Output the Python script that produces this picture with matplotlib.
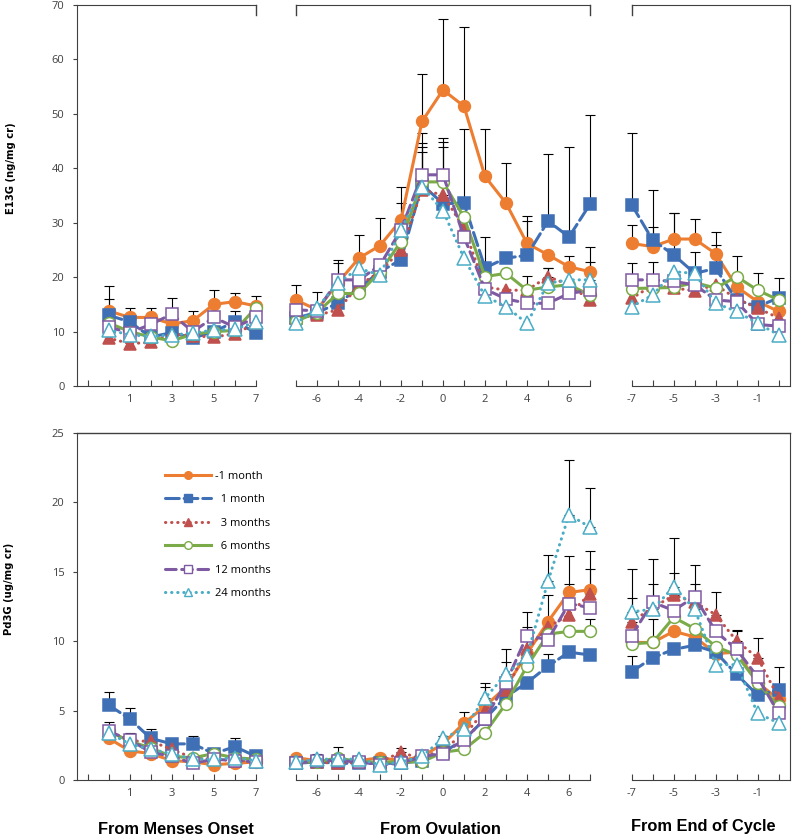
import numpy as np
import matplotlib
matplotlib.use('Agg')
import matplotlib.pyplot as plt
from matplotlib.lines import Line2D

plt.rcParams['font.family'] = ['Open Sans', 'DejaVu Sans']

nan = np.nan

# Series (same order in every panel)
series_labels = ['-1 month', '  1 month', '  3 months', '  6 months', '12 months', '24 months']

# Days for each panel
days_menses = [0, 1, 2, 3, 4, 5, 6, 7]
days_ovul = [-7, -6, -5, -4, -3, -2, -1, 0, 1, 2, 3, 4, 5, 6, 7]
days_end = [-7, -6, -5, -4, -3, -2, -1, 0]

# E13G (ng/mg cr) values, one row per series
e13g_menses = [
    [13.8, 12.6, 12.6, 11.4, 12.0, 15.0, 15.5, 14.7],
    [13.0, 11.8, 9.0, 9.8, 8.8, 10.0, 11.8, 9.8],
    [8.8, 7.8, 8.0, 9.6, 9.2, 9.0, 9.6, 11.5],
    [11.6, 10.0, 9.0, 8.3, 9.5, 10.0, 10.2, 14.4],
    [10.8, 9.8, 11.3, 13.2, 10.0, 12.6, 10.8, 12.6],
    [10.3, 9.4, 9.1, 9.4, 9.7, 10.3, 10.4, 11.8],
]
e13g_menses_err = [
    [4.6, 1.7, 1.7, 4.7, 1.7, 2.6, 1.6, 1.8],
    [3.0, nan, nan, nan, nan, nan, 2.0, nan],
    [nan] * 8,
    [nan] * 8,
    [nan] * 8,
    [nan] * 8,
]
e13g_ovul = [
    [15.8, 14.0, 19.0, 23.5, 25.8, 30.5, 48.6, 54.4, 51.4, 38.5, 33.6, 26.2, 24.1, 21.9, 21.0],
    [12.5, 13.5, 15.2, 18.0, 21.0, 23.2, 37.0, 33.5, 33.6, 21.7, 23.5, 24.0, 30.3, 27.4, 33.4],
    [12.5, 13.0, 14.0, 18.5, 21.0, 25.0, 36.0, 35.1, 29.0, 18.2, 17.6, 17.6, 20.1, 18.6, 15.8],
    [11.9, 13.5, 17.0, 17.0, 21.0, 26.5, 37.5, 37.5, 31.0, 20.1, 20.7, 17.6, 18.2, 18.6, 16.7],
    [14.0, 13.8, 19.5, 19.5, 22.2, 28.7, 38.8, 38.8, 27.4, 17.8, 16.0, 15.2, 15.2, 17.0, 17.6],
    [11.5, 14.3, 19.0, 21.6, 20.4, 28.7, 36.6, 32.2, 23.5, 16.5, 14.6, 11.5, 18.9, 19.5, 19.5],
]
e13g_ovul_err = [
    [2.8, 3.3, 4.1, 4.2, 5.1, 6.0, 8.7, 13.1, 14.5, 8.8, 7.3, 5.0, nan, 1.9, 4.6],
    [nan, nan, nan, nan, nan, nan, nan, nan, 13.7, 5.6, nan, 6.4, 12.3, 16.6, 16.4],
    [nan, nan, nan, nan, nan, nan, 8.0, 8.9, nan, nan, nan, nan, 1.5, nan, nan],
    [nan, nan, nan, nan, nan, nan, 7.1, 7.4, nan, nan, nan, 2.6, nan, nan, nan],
    [nan, nan, 3.1, nan, nan, 4.9, 7.6, 6.7, nan, nan, nan, nan, nan, nan, nan],
    [nan, nan, nan, nan, nan, nan, 6.4, nan, nan, nan, nan, nan, 2.7, nan, 3.3],
]
e13g_end = [
    [26.2, 25.6, 27.0, 27.0, 24.3, 18.2, 15.5, 13.7],
    [33.3, 26.8, 24.1, 20.7, 21.6, 15.8, 14.6, 16.2],
    [16.1, 18.5, 18.0, 17.5, 18.6, 16.0, 14.3, 12.5],
    [17.9, 18.0, 18.1, 19.0, 18.0, 20.1, 17.6, 15.8],
    [19.5, 19.5, 19.2, 18.6, 15.8, 15.5, 11.3, 11.0],
    [14.6, 16.7, 21.0, 20.7, 15.2, 13.7, 11.5, 9.4],
]
e13g_end_err = [
    [3.4, 3.7, 4.7, 3.6, 4.0, nan, nan, nan],
    [13.1, 9.2, 7.6, 4.0, 4.3, nan, nan, nan],
    [nan] * 8,
    [nan, nan, nan, nan, nan, 3.7, 3.1, 4.0],
    [3.1, 3.2, nan, nan, nan, nan, nan, nan],
    [nan] * 8,
]

# Pd3G (ug/mg cr) values
pd3g_menses = [
    [3.0, 2.1, 1.9, 1.4, 1.3, 1.1, 1.2, 1.3],
    [5.4, 4.4, 3.0, 2.6, 2.6, 1.9, 2.4, 1.7],
    [3.5, 2.8, 2.8, 2.2, 1.6, 1.5, 1.4, 1.4],
    [3.5, 2.8, 2.3, 1.7, 1.6, 1.9, 1.6, 1.5],
    [3.5, 2.9, 2.0, 1.7, 1.2, 1.5, 1.4, 1.3],
    [3.4, 2.6, 2.2, 1.9, 1.5, 1.5, 1.6, 1.4],
]
pd3g_menses_err = [
    [nan] * 8,
    [0.9, 0.8, 0.7, 0.4, 0.6, nan, 0.6, nan],
    [nan] * 8,
    [0.7, nan, nan, nan, nan, nan, nan, nan],
    [nan, 0.5, nan, nan, nan, nan, nan, nan],
    [nan] * 8,
]
pd3g_ovul = [
    [1.6, 1.4, 1.4, 1.4, 1.6, 1.4, 1.7, 2.6, 4.1, 5.3, 6.7, 9.1, 11.4, 13.5, 13.7],
    [1.2, 1.3, 1.2, 1.2, 1.2, 1.2, 1.4, 2.0, 2.9, 4.4, 6.0, 7.0, 8.2, 9.2, 9.0],
    [1.3, 1.3, 1.2, 1.3, 1.3, 2.0, 1.5, 2.3, 3.2, 5.0, 6.5, 9.4, 11.0, 11.9, 13.4],
    [1.3, 1.3, 1.6, 1.3, 1.3, 1.3, 1.3, 2.0, 2.2, 3.4, 5.5, 8.2, 10.5, 10.7, 10.7],
    [1.2, 1.4, 1.4, 1.3, 1.1, 1.2, 1.7, 1.9, 2.9, 4.4, 7.0, 10.4, 10.1, 12.7, 12.4],
    [1.3, 1.5, 1.5, 1.5, 1.1, 1.3, 1.7, 3.0, 3.7, 5.9, 7.6, 8.9, 14.3, 19.1, 18.2],
]
pd3g_ovul_err = [
    [nan, nan, nan, nan, nan, nan, nan, 0.6, 0.8, 1.4, nan, nan, 1.9, 2.6, 2.8],
    [nan, nan, nan, nan, nan, nan, nan, nan, nan, nan, nan, nan, 0.9, nan, nan],
    [nan, nan, nan, nan, nan, 0.3, nan, nan, nan, nan, nan, 1.6, nan, nan, 1.8],
    [nan, nan, 0.8, nan, nan, nan, nan, nan, nan, nan, nan, nan, nan, nan, 0.9],
    [nan, nan, nan, nan, nan, nan, nan, nan, nan, nan, 1.5, 1.7, nan, 1.4, nan],
    [nan, 0.4, nan, nan, nan, nan, nan, nan, nan, 1.1, 1.8, nan, 1.9, 3.9, 2.8],
]
pd3g_end = [
    [9.9, 9.9, 10.7, 10.3, 9.1, 9.2, 7.0, 5.8],
    [7.8, 8.8, 9.4, 9.7, 9.2, 7.6, 6.1, 6.5],
    [11.4, 12.4, 13.3, 12.8, 11.9, 10.0, 8.8, 5.9],
    [9.8, 9.9, 11.7, 10.9, 9.6, 9.0, 7.0, 5.3],
    [10.4, 12.8, 12.2, 13.2, 10.7, 9.4, 7.4, 4.8],
    [12.1, 12.3, 13.9, 12.3, 8.3, 8.3, 4.8, 4.1],
]
pd3g_end_err = [
    [nan, nan, nan, nan, nan, nan, nan, nan],
    [1.1, nan, nan, nan, nan, nan, nan, 1.6],
    [1.7, nan, 1.6, nan, 1.6, 0.8, 1.4, nan],
    [nan, 1.7, nan, nan, nan, nan, nan, nan],
    [nan, 3.1, nan, 2.3, nan, 1.3, nan, nan],
    [3.1, 1.8, 3.5, 1.8, nan, nan, nan, nan],
]

# styles
colors = ['#ED7D31', '#3F6FB5', '#C0504D', '#7AAB48', '#7E5AA2', '#4BACC6']
markers = ['o', 's', '^', 'o', 's', '^']
filled = [True, True, True, False, False, False]
dashes = [(), (4.5, 1.6), (0.1, 1.9), (), (3.5, 1.8), (0.1, 1.9)]
msizes = [8.5, 8.5, 9, 8.5, 9, 9.5]

W, H = 792, 839
axis_col = '#404040'
tick_col = '#404040'


def box(x0, x1, ytop, ybot):
    return [x0 / W, 1 - ybot / H, (x1 - x0) / W, (ybot - ytop) / H]


def draw(ax, days, vals, errs):
    days = np.array(days)
    for i in range(6):
        y = np.array(vals[i])
        e = np.array(errs[i])
        m = ~np.isnan(e)
        if m.any():
            ax.errorbar(days[m], y[m], yerr=[np.zeros(m.sum()), e[m]], fmt='none',
                        ecolor='black', elinewidth=0.8, capsize=3.5, capthick=0.8,
                        zorder=1, clip_on=False)
        ax.plot(days, y, color=colors[i], lw=2.2, dashes=dashes[i],
                dash_capstyle='round', marker=markers[i], ms=msizes[i],
                mfc=colors[i] if filled[i] else 'white', mec=colors[i],
                mew=1.1, zorder=3 + i, clip_on=False)


def setup(ax, xlim, ticks, labelled, ylim, yticks, left):
    ax.set_xlim(*xlim)
    ax.set_ylim(*ylim)
    ax.set_xticks(ticks)
    ax.set_xticklabels([str(t) if t in labelled else '' for t in ticks])
    ax.tick_params(axis='x', direction='in', length=4, width=0.8, pad=6,
                   labelsize=8, labelcolor=tick_col, color=axis_col)
    for s in ['top', 'right', 'left', 'bottom']:
        ax.spines[s].set_visible(False)
    ax.spines['bottom'].set_visible(True)
    ax.spines['bottom'].set_color(axis_col)
    if left:
        ax.spines['left'].set_visible(True)
        ax.spines['left'].set_color(axis_col)
        ax.set_yticks(yticks)
        ax.tick_params(axis='y', direction='out', length=3, width=0.8, pad=6,
                       labelsize=8, labelcolor=tick_col, color=axis_col)
    else:
        ax.tick_params(axis='y', left=False, labelleft=False)


fig = plt.figure(figsize=(W / 100, H / 100), dpi=100)

top_y = (5, 386)
bot_y = (432.7, 780)
col_x = [(77, 256), (296, 590), (631.7, 790)]
xlims = [(-1.5, 7), (-7, 7), (-7, 0.54)]
xticks = [list(range(-1, 8)), list(range(-7, 8)), list(range(-7, 1))]
xlabs = [[1, 3, 5, 7], [-6, -4, -2, 0, 2, 4, 6], [-7, -5, -3, -1]]

top_data = [(days_menses, e13g_menses, e13g_menses_err),
            (days_ovul, e13g_ovul, e13g_ovul_err),
            (days_end, e13g_end, e13g_end_err)]
bot_data = [(days_menses, pd3g_menses, pd3g_menses_err),
            (days_ovul, pd3g_ovul, pd3g_ovul_err),
            (days_end, pd3g_end, pd3g_end_err)]

# top row (E13G)
tick_h = 10 / (top_y[1] - top_y[0])
for j in range(3):
    ax = fig.add_axes(box(col_x[j][0], col_x[j][1], *top_y))
    setup(ax, xlims[j], xticks[j], xlabs[j], (0, 70), range(0, 71, 10), j == 0)
    ax.spines['top'].set_visible(True)
    ax.spines['top'].set_color(axis_col)
    if j < 2:
        ax.plot([1, 1], [1, 1 - tick_h], transform=ax.transAxes, color=axis_col,
                lw=1, clip_on=False)
    if j > 0:
        ax.plot([0, 0], [1, 1 - tick_h], transform=ax.transAxes, color=axis_col,
                lw=1, clip_on=False)
    if j == 2:
        ax.spines['right'].set_visible(True)
        ax.spines['right'].set_color(axis_col)
    draw(ax, *top_data[j])

# bottom row (Pd3G)
bot_axes = []
for j in range(3):
    ax = fig.add_axes(box(col_x[j][0], col_x[j][1], *bot_y))
    setup(ax, xlims[j], xticks[j], xlabs[j], (0, 25), range(0, 26, 5), j == 0)
    if j == 2:
        ax.spines['right'].set_visible(True)
        ax.spines['right'].set_color(axis_col)
    draw(ax, *bot_data[j])
    bot_axes.append(ax)

# continuous top frame line of the bottom row
yl = 1 - bot_y[0] / H
fig.add_artist(Line2D([77 / W, 790 / W], [yl, yl], color=axis_col, lw=1))

# legend
handles = []
for i in range(6):
    handles.append(Line2D([], [], color=colors[i], lw=2.2, dashes=dashes[i],
                          dash_capstyle='round', marker=markers[i], ms=5.5,
                          mfc=colors[i] if filled[i] else 'white', mec=colors[i],
                          mew=1.0))
bot_axes[0].legend(handles, series_labels, loc='upper left',
                   bbox_to_anchor=(0.49, 0.89), frameon=False, fontsize=8,
                   handlelength=4.2, handletextpad=0.3, labelspacing=1.12,
                   borderpad=0, borderaxespad=0)

# axis titles
fig.text(11 / W, 1 - 168 / H, 'E13G (ng/mg cr)', rotation=90, ha='center',
         va='center', fontsize=7.2, fontweight='bold', family='DejaVu Sans')
fig.text(9 / W, 1 - 589 / H, 'Pd3G (ug/mg cr)', rotation=90, ha='center',
         va='center', fontsize=7.2, fontweight='bold', family='DejaVu Sans')
fig.text(176 / W, 1 - 829 / H, 'From Menses Onset', ha='center', va='center',
         fontsize=11.8, fontweight='bold', family='Liberation Sans')
fig.text(440 / W, 1 - 829 / H, 'From Ovulation', ha='center', va='center',
         fontsize=11.8, fontweight='bold', family='Liberation Sans')
fig.text(703 / W, 1 - 827 / H, 'From End of Cycle', ha='center', va='center',
         fontsize=11.8, fontweight='bold', family='Liberation Sans')

fig.savefig('out.png', dpi=100)
